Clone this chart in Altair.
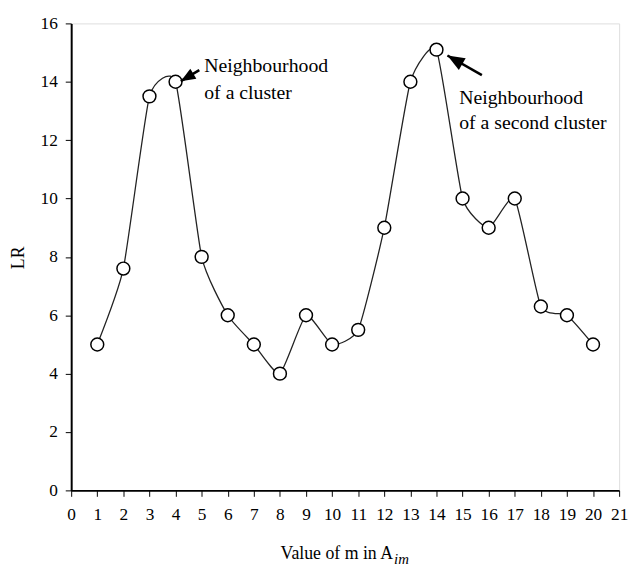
import altair as alt
import pandas as pd

# ---- data ----
x_vals = list(range(1, 21))
lr_vals = [5.0, 7.6, 13.5, 14.0, 8.0, 6.0, 5.0, 4.0, 6.0, 5.0,
           5.5, 9.0, 14.0, 15.1, 10.0, 9.0, 10.0, 6.3, 6.0, 5.0]
x_ticks = list(range(0, 22))
y_ticks = list(range(0, 17, 2))

ann_text = ["Neighbourhood", "of a cluster", "Neighbourhood", "of a second cluster"]
ann_x = [5.1, 5.1, 14.87, 14.87]
ann_y = [14.53, 13.62, 13.45, 12.6]

arrow_x = [4.91, 15.74]
arrow_y = [14.40, 14.23]
arrow_x2 = [4.20, 14.42]
arrow_y2 = [14.02, 14.90]
arrow_angle = [239, 300]
arrow_head = [220, 300]

x_title = ["Value of m in A"]
x_title_sub = ["im"]

FONT = "Liberation Serif, Times New Roman, serif"

df = pd.DataFrame({"x": x_vals, "lr": lr_vals})
ann = pd.DataFrame({"x": ann_x, "y": ann_y, "t": ann_text})
arr = pd.DataFrame({"x": arrow_x, "y": arrow_y, "x2": arrow_x2, "y2": arrow_y2,
                    "a": arrow_angle, "s": arrow_head})
ttl = pd.DataFrame({"t": x_title})
sub = pd.DataFrame({"t": x_title_sub})

xs = alt.Scale(domain=[0, 21], nice=False, zero=False)
ys = alt.Scale(domain=[0, 16], nice=False)

xaxis = alt.Axis(values=x_ticks, title=None, grid=False, domainColor="black", domainWidth=2,
                 tickColor="black", tickSize=6, tickWidth=1, labelFont=FONT, labelFontSize=17.5,
                 labelColor="black", labelPadding=9, labelFlush=False, labelOverlap=False,
                 tickCount=22)
yaxis = alt.Axis(values=y_ticks, title="LR", grid=False, domainColor="black", domainWidth=2,
                 tickColor="black", tickSize=6, tickWidth=1, labelFont=FONT, labelFontSize=17.5,
                 labelColor="black", labelPadding=8, titleFont=FONT, titleFontSize=18,
                 titleFontWeight="normal", titleColor="black", titleX=-53, titleY=237,
                 titleBaseline="middle", titleAngle=-90)


def X(f):
    return alt.X(f, scale=xs, axis=xaxis)


def Y(f):
    return alt.Y(f, scale=ys, axis=yaxis)


base = alt.Chart(df)

line = base.mark_line(interpolate="cardinal", tension=0.5, color="#222", strokeWidth=1.3).encode(
    x=X("x:Q"), y=Y("lr:Q"))
pts = base.mark_point(shape="circle", filled=True, fill="white", stroke="black",
                      strokeWidth=1.5, size=170, opacity=1).encode(
    x=X("x:Q"), y=Y("lr:Q"))

texts = alt.Chart(ann).mark_text(font=FONT, fontSize=20, align="left", baseline="middle",
                                 color="black").encode(
    x=X("x:Q"), y=Y("y:Q"), text="t:N")

shafts = alt.Chart(arr).mark_rule(color="black", strokeWidth=2.6).encode(
    x=X("x:Q"), y=Y("y:Q"), x2="x2:Q", y2="y2:Q")

heads = alt.Chart(arr).mark_point(shape="M0,0 L-0.8,2 L0.8,2 Z", filled=True,
                                  color="black", opacity=1).encode(
    x=X("x2:Q"), y=Y("y2:Q"),
    angle=alt.Angle("a:Q", scale=None), size=alt.Size("s:Q", scale=None, legend=None))

xtitle = alt.Chart(ttl).mark_text(font=FONT, fontSize=18, align="right", baseline="alphabetic",
                                  color="black").encode(
    x=alt.value(326), y=alt.value(543), text="t:N")
xsub = alt.Chart(sub).mark_text(font=FONT, fontSize=15, fontStyle="italic", align="left",
                                baseline="alphabetic", color="black").encode(
    x=alt.value(327), y=alt.value(548), text="t:N")

chart = alt.layer(line, pts, shafts, heads, texts, xtitle, xsub).properties(
    width=555, height=473,
    padding={"left": 64, "top": 12, "right": 10, "bottom": 74},
    autosize="none",
).configure_view(stroke="black", strokeWidth=1.5).configure(background="white")

chart.save("out.html", embed_options={"renderer": "svg", "actions": False})
